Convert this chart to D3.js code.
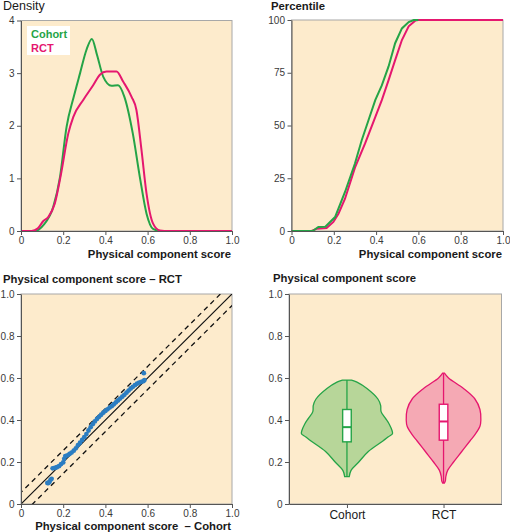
<!DOCTYPE html>
<html><head><meta charset="utf-8">
<script src="https://cdn.jsdelivr.net/npm/d3@7"></script>
<style>
body{margin:0;background:#fff;}
svg{display:block;font-family:"Liberation Sans",Arial,Helvetica,sans-serif;}
</style></head><body>
<svg id="chart" width="510" height="532"></svg>
<script>
// ---------------- DATA ----------------
const unitTicks = [0, 0.2, 0.4, 0.6, 0.8, 1.0];
const unitTickLabels = ["0", "0.2", "0.4", "0.6", "0.8", "1.0"];
const densityTicks = [0, 1, 2, 3, 4];
const densityTickLabels = ["0", "1", "2", "3", "4"];
const pctTicks = [0, 25, 50, 75, 100];
const pctTickLabels = ["0", "25", "50", "75", "100"];
const groups = ["Cohort", "RCT"];

// Panel 1: density
const cohortDensX = [0, 0.07, 0.106, 0.153, 0.185, 0.216, 0.25, 0.28, 0.31, 0.336, 0.36, 0.39, 0.429, 0.46, 0.49, 0.53, 0.563, 0.595, 0.626, 0.66, 1.0];
const cohortDens  = [0, 0, 0.11, 0.46, 1.03, 1.98, 2.55, 3.0, 3.44, 3.65, 3.35, 2.93, 2.76, 2.77, 2.55, 1.85, 1.03, 0.33, 0.04, 0, 0];
const rctDensX = [0, 0.05, 0.08, 0.106, 0.13, 0.16, 0.19, 0.224, 0.248, 0.295, 0.342, 0.374, 0.405, 0.453, 0.484, 0.524, 0.547, 0.571, 0.595, 0.626, 0.658, 0.7, 1.0];
const rctDens  = [0, 0, 0.05, 0.19, 0.27, 0.52, 1.09, 1.85, 2.17, 2.49, 2.77, 2.97, 3.03, 3.03, 2.84, 2.55, 2.3, 1.54, 0.71, 0.14, 0.01, 0, 0];

// Panel 2: cumulative percentile
const cohortCdfX = [0, 0.1, 0.127, 0.16, 0.206, 0.253, 0.30, 0.332, 0.364, 0.396, 0.427, 0.459, 0.49, 0.522, 0.554, 0.578, 1.0];
const cohortCdf  = [0, 0, 1.9, 2, 6.6, 18.5, 32, 43, 52.5, 62, 69, 78, 89, 96, 99, 100, 100];
const rctCdfX = [0, 0.095, 0.12, 0.166, 0.198, 0.222, 0.253, 0.30, 0.348, 0.396, 0.427, 0.459, 0.49, 0.522, 0.554, 0.585, 0.6, 1.0];
const rctCdf  = [0, 0, 1.1, 1.4, 4.3, 8.2, 15.3, 30, 41.5, 54, 62, 71.5, 81, 90.5, 97, 99.7, 100, 100];

// Panel 3: Q-Q quantiles
const qqCohort = [0.125,0.13,0.135,0.14,0.145,0.15,0.16,0.17,0.18,0.19,0.2,0.205,0.21,0.22,0.23,0.24,0.25,0.26,0.27,0.28,0.29,0.30,0.31,0.32,0.33,0.34,0.35,0.36,0.37,0.38,0.39,0.40,0.41,0.42,0.43,0.44,0.45,0.46,0.47,0.48,0.49,0.50,0.51,0.52,0.53,0.54,0.55,0.56,0.57,0.58,0.585,0.582];
const qqRct    = [0.10,0.10,0.105,0.115,0.12,0.17,0.172,0.175,0.18,0.19,0.198,0.215,0.228,0.232,0.238,0.245,0.254,0.265,0.28,0.292,0.305,0.318,0.333,0.35,0.366,0.38,0.393,0.405,0.415,0.425,0.435,0.443,0.451,0.459,0.466,0.475,0.484,0.493,0.502,0.511,0.52,0.53,0.54,0.55,0.558,0.566,0.573,0.578,0.582,0.585,0.59,0.623];
const qqBand = 0.055;

// Panel 4: violins (relative half-width at score level)
const cohortViolinY = [0.59, 0.58, 0.55, 0.5, 0.47, 0.44, 0.41, 0.38, 0.35, 0.335, 0.32, 0.3, 0.25, 0.2, 0.16, 0.13];
const cohortViolinW = [0.10, 0.22, 0.44, 0.68, 0.74, 0.75, 0.84, 0.93, 0.99, 1.0, 0.91, 0.79, 0.47, 0.26, 0.09, 0.05];
const rctViolinY = [0.623, 0.6, 0.55, 0.5, 0.45, 0.4, 0.37, 0.33, 0.3, 0.25, 0.2, 0.16, 0.13, 0.11, 0.10];
const rctViolinW = [0.02, 0.11, 0.44, 0.69, 0.80, 0.82, 0.80, 0.69, 0.58, 0.40, 0.22, 0.09, 0.05, 0.04, 0.02];
const boxQ1 = [0.296, 0.304];
const boxMedian = [0.366, 0.393];
const boxQ3 = [0.45, 0.475];

// ---------------- STYLE ----------------
const BG = "#fdebcc", FRAME = "#a8a8a8", AXIS = "#555";
const GREEN = "#25a447", PINK = "#e5176f";
const GREEN_FILL = "#b7d699", PINK_FILL = "#f5a9b4";
const BLUE = "#2b7dc2";

const svg = d3.select("#chart");

function frame(x0, x1, y0, y1) {
  svg.append("rect").attr("x", x0).attr("y", y0)
    .attr("width", x1 - x0).attr("height", y1 - y0)
    .attr("fill", BG).attr("stroke", FRAME).attr("stroke-width", 1);
}
function styleAxis(g, fs) {
  g.selectAll(".domain").attr("stroke", AXIS);
  g.selectAll(".tick line").attr("stroke", AXIS);
  g.selectAll(".tick text").attr("fill", "#3a3a3a")
    .style("font-family", '"Liberation Sans", Arial, sans-serif')
    .style("font-size", (fs || 10) + "px");
}
function axes(x, y, xt, xl, yt, yl, x0, y1) {
  const gx = svg.append("g").attr("transform", `translate(0,${y1})`)
    .call(d3.axisBottom(x).tickValues(xt).tickFormat((d, i) => xl[i]).tickSize(4).tickSizeOuter(0).tickPadding(1.5));
  styleAxis(gx);
  const gy = svg.append("g").attr("transform", `translate(${x0},0)`)
    .call(d3.axisLeft(y).tickValues(yt).tickFormat((d, i) => yl[i]).tickSize(4).tickSizeOuter(0).tickPadding(2.5));
  styleAxis(gy);
}
function text(x, y, s, opts) {
  return svg.append("text").attr("x", x).attr("y", y).text(s)
    .attr("font-size", (opts.size || 11.3) + "px")
    .attr("font-weight", opts.weight || "bold")
    .attr("fill", opts.fill || "#1a1a1a")
    .attr("text-anchor", opts.anchor || "start");
}

// ---------------- PANEL 1: Density ----------------
{
  const X0 = 21, X1 = 232, Y0 = 20.5, Y1 = 231;
  frame(X0, X1, Y0, Y1);
  const x = d3.scaleLinear().domain([0, 1]).range([X0, X1]);
  const y = d3.scaleLinear().domain([0, 4]).range([Y1, Y0]);
  const line = d3.line().x(d => x(d[0])).y(d => y(d[1])).curve(d3.curveMonotoneX);
  svg.append("path").datum(cohortDensX.map((v, i) => [v, cohortDens[i]]))
    .attr("d", line).attr("fill", "none").attr("stroke", GREEN).attr("stroke-width", 2);
  svg.append("path").datum(rctDensX.map((v, i) => [v, rctDens[i]]))
    .attr("d", line).attr("fill", "none").attr("stroke", PINK).attr("stroke-width", 2);
  axes(x, y, unitTicks, unitTickLabels, densityTicks, densityTickLabels, X0, Y1);
  // legend
  svg.append("rect").attr("x", 27).attr("y", 26).attr("width", 43).attr("height", 29).attr("fill", "#fff");
  text(31, 38, groups[0], { size: 11, fill: GREEN });
  text(31, 52, groups[1], { size: 11, fill: PINK });
  text(3, 10, "Density", { size: 12.5, weight: "normal" });
  text(231, 258, "Physical component score", {anchor: "end"});
}

// ---------------- PANEL 2: Percentile ----------------
{
  const X0 = 291.5, X1 = 503, Y0 = 20, Y1 = 231;
  frame(X0, X1, Y0, Y1);
  const x = d3.scaleLinear().domain([0, 1]).range([X0, X1]);
  const y = d3.scaleLinear().domain([0, 100]).range([Y1, Y0]);
  const line = d3.line().x(d => x(d[0])).y(d => y(d[1]));
  svg.append("path").datum(rctCdfX.map((v, i) => [v, rctCdf[i]]))
    .attr("d", line).attr("fill", "none").attr("stroke", PINK).attr("stroke-width", 2);
  svg.append("path").datum(cohortCdfX.map((v, i) => [v, cohortCdf[i]]))
    .attr("d", line).attr("fill", "none").attr("stroke", GREEN).attr("stroke-width", 2);
  svg.append("path").datum(rctCdfX.map((v, i) => [v, rctCdf[i]]).filter(d => d[1] >= 100))
    .attr("d", line).attr("fill", "none").attr("stroke", PINK).attr("stroke-width", 2);
  axes(x, y, unitTicks, unitTickLabels, pctTicks, pctTickLabels, X0, Y1);
  text(271, 10, "Percentile", {});
  text(502, 258, "Physical component score", {anchor: "end"});
}

// ---------------- PANEL 3: Q-Q ----------------
{
  const X0 = 21, X1 = 232, Y0 = 294, Y1 = 504;
  frame(X0, X1, Y0, Y1);
  const x = d3.scaleLinear().domain([0, 1]).range([X0, X1]);
  const y = d3.scaleLinear().domain([0, 1]).range([Y1, Y0]);
  svg.append("clipPath").attr("id", "qqclip").append("rect")
    .attr("x", X0).attr("y", Y0).attr("width", X1 - X0).attr("height", Y1 - Y0);
  const g = svg.append("g").attr("clip-path", "url(#qqclip)");
  g.append("line").attr("x1", x(0)).attr("y1", y(0)).attr("x2", x(1)).attr("y2", y(1))
    .attr("stroke", "#111").attr("stroke-width", 1.2);
  [qqBand, -qqBand].forEach(o => {
    g.append("line").attr("x1", x(-0.1)).attr("y1", y(-0.1 + o)).attr("x2", x(1.1)).attr("y2", y(1.1 + o))
      .attr("stroke", "#111").attr("stroke-width", 1.3).attr("stroke-dasharray", "5,4");
  });
  g.selectAll("circle.qq").data(qqCohort.map((v, i) => [v, qqRct[i]])).enter()
    .append("circle").attr("class", "qq")
    .attr("cx", d => x(d[0])).attr("cy", d => y(d[1])).attr("r", 2.4).attr("fill", BLUE);
  axes(x, y, unitTicks, unitTickLabels, unitTicks, unitTickLabels, X0, Y1);
  text(3, 283, "Physical component score \u2013 RCT", {});
  text(231, 529.5, "Physical component score\u00a0 \u2013 Cohort", {anchor: "end"});
}

// ---------------- PANEL 4: Violins ----------------
{
  const X0 = 289, X1 = 501.5, Y0 = 294, Y1 = 504;
  frame(X0, X1, Y0, Y1);
  const x = d3.scalePoint().domain(groups).range([X0, X1]).padding(0.6);
  const y = d3.scaleLinear().domain([0, 1]).range([Y1, Y0]);
  const w = d3.scaleLinear().domain([0, 1]).range([0, 45.5]);
  const sets = [
    { g: groups[0], ys: cohortViolinY, ws: cohortViolinW, fill: GREEN_FILL, stroke: GREEN },
    { g: groups[1], ys: rctViolinY, ws: rctViolinW, fill: PINK_FILL, stroke: PINK }
  ];
  sets.forEach((s, k) => {
    const cx = x(s.g);
    const data = s.ys.map((v, i) => [v, s.ws[i]]);
    const area = d3.area().y(d => y(d[0])).x0(d => cx - w(d[1])).x1(d => cx + w(d[1])).curve(d3.curveCatmullRom);
    svg.append("path").datum(data).attr("d", area)
      .attr("fill", s.fill).attr("stroke", s.stroke).attr("stroke-width", 1.3);
    svg.append("line").attr("x1", cx).attr("x2", cx)
      .attr("y1", y(d3.max(s.ys))).attr("y2", y(d3.min(s.ys)))
      .attr("stroke", s.stroke).attr("stroke-width", 1.3);
    svg.append("rect").attr("x", cx - 4.3).attr("width", 8.6)
      .attr("y", y(boxQ3[k])).attr("height", y(boxQ1[k]) - y(boxQ3[k]))
      .attr("fill", "#fff").attr("stroke", s.stroke).attr("stroke-width", 1.4);
    svg.append("line").attr("x1", cx - 4.3).attr("x2", cx + 4.3)
      .attr("y1", y(boxMedian[k])).attr("y2", y(boxMedian[k]))
      .attr("stroke", s.stroke).attr("stroke-width", 2);
  });
  const gx = svg.append("g").attr("transform", `translate(0,${Y1})`)
    .call(d3.axisBottom(x).tickSize(4).tickSizeOuter(0).tickPadding(2));
  styleAxis(gx, 12);
  gx.selectAll(".tick text").attr("fill", "#1a1a1a");
  const gy = svg.append("g").attr("transform", `translate(${X0},0)`)
    .call(d3.axisLeft(y).tickValues(unitTicks).tickFormat((d, i) => unitTickLabels[i]).tickSize(4).tickSizeOuter(0).tickPadding(2.5));
  styleAxis(gy);
  text(273, 282, "Physical component score", {});
}
</script>
</body></html>
